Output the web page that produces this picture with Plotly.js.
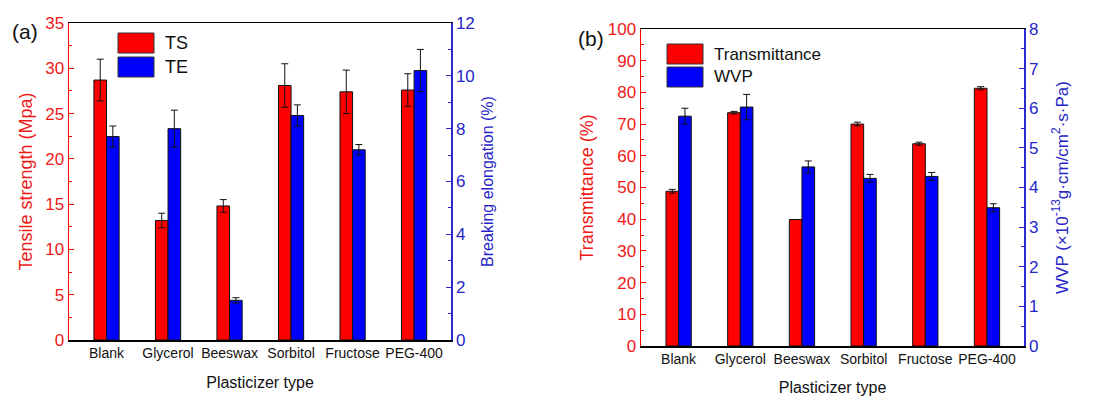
<!DOCTYPE html>
<html>
<head>
<meta charset="utf-8">
<script src="https://cdn.plot.ly/plotly-3.0.1.min.js"></script>
<style>html,body{margin:0;padding:0;background:#fff;}#chart{width:1094px;height:397px;}</style>
</head>
<body>
<div id="chart"></div>
<script>
const categories = ['Blank', 'Glycerol', 'Beeswax', 'Sorbitol', 'Fructose', 'PEG-400'];
const tsValues = [28.7, 13.2, 14.8, 28.1, 27.4, 27.6];
const tsErr = [2.3, 0.8, 0.7, 2.4, 2.4, 1.8];
const teValues = [7.7, 8.0, 1.5, 8.5, 7.2, 10.2];
const teErr = [0.4, 0.7, 0.1, 0.4, 0.2, 0.8];
const transValues = [48.8, 73.6, 39.9, 70.0, 63.8, 81.3];
const transErr = [0.6, 0.4, 0, 0.6, 0.5, 0.5];
const wvpValues = [5.8, 6.03, 4.52, 4.23, 4.28, 3.49];
const wvpErr = [0.2, 0.32, 0.15, 0.1, 0.1, 0.1];

const W = 1094, H = 397;
const RED = '#ff0000', BLUE = '#0000ff';
const RED_T = '#f01818', BLUE_T = '#2626c8';
const FONT = 'Liberation Sans, Arial, sans-serif';
const px = x => x / W;
const py = y => 1 - y / H;
const BW = 0.205;

function bar(x, y, err, color, name, xa, ya, offset) {
  return {
    type: 'bar', x: x, y: y, name: name, xaxis: xa, yaxis: ya,
    width: BW, offset: offset,
    marker: {color: color, line: {color: '#111', width: 1}},
    error_y: {type: 'data', array: err, visible: true, color: '#111', thickness: 1, width: 3.5},
    showlegend: false
  };
}

const data = [
  bar(categories, tsValues, tsErr, RED, 'TS', 'x', 'y', -BW),
  bar(categories, teValues, teErr, BLUE, 'TE', 'x', 'y2', 0),
  bar(categories, transValues, transErr, RED, 'Transmittance', 'x2', 'y3', -BW),
  bar(categories, wvpValues, wvpErr, BLUE, 'WVP', 'x2', 'y4', 0)
];

function xax(domain, anchor, standoff) {
  return {
    domain: domain, anchor: anchor, type: 'category', range: [-0.61, 5.6],
    showline: true, linecolor: '#000', linewidth: 1.5, mirror: true,
    ticks: '', showgrid: false, zeroline: false,
    tickfont: {family: FONT, size: 14, color: '#111'},
    title: {text: 'Plasticizer type', font: {family: FONT, size: 16, color: '#111'}, standoff: standoff}
  };
}
function yax(domain, anchor, range, dtick, minor, color, tcolor, title, tsize, standoff, side, overlay) {
  const a = {
    domain: domain, anchor: anchor, range: range, dtick: dtick, tick0: 0,
    showline: true, linecolor: color, linewidth: 1.5,
    ticks: 'inside', ticklen: 5, tickcolor: color, tickwidth: 1,
    minor: {dtick: minor, ticks: 'inside', ticklen: 3, tickcolor: color},
    showgrid: false, zeroline: false,
    tickfont: {family: FONT, size: 17, color: tcolor},
    title: {text: title, font: {family: FONT, size: tsize, color: tcolor}, standoff: standoff}
  };
  if (side) a.side = side;
  if (overlay) a.overlaying = overlay;
  return a;
}

const dA = [px(69), px(451)], dAy = [py(340), py(23)];
const dB = [px(641), px(1024)], dBy = [py(346), py(29)];

const layout = {
  width: W, height: H,
  margin: {l: 0, r: 0, t: 0, b: 0},
  paper_bgcolor: '#fff', plot_bgcolor: 'rgba(0,0,0,0)',
  barmode: 'overlay',
  showlegend: false,
  xaxis: xax(dA, 'y', 16),
  xaxis2: xax(dB, 'y3', 15),
  yaxis: yax(dAy, 'x', [0, 35], 5, 2.5, RED, RED_T, 'Tensile strength (Mpa)', 18, 8),
  yaxis2: yax(dAy, 'x', [0, 12], 2, 1, '#2a2ad0', BLUE_T, 'Breaking elongation (%)', 16, 8, 'right', 'y'),
  yaxis3: yax(dBy, 'x2', [0, 100], 10, 5, RED, RED_T, 'Transmittance (%)', 18, 9, null, null),
  yaxis4: yax(dBy, 'x2', [0, 8], 1, 0.5, '#2a2ad0', BLUE_T, 'WVP (×10<sup>-13</sup>g·cm/cm<sup>2</sup>·s·Pa)', 17, 18, 'right', 'y3'),
  shapes: [
    {type: 'rect', xref: 'paper', yref: 'paper', x0: px(118), x1: px(154), y0: py(53), y1: py(33), fillcolor: RED, line: {color: '#333', width: 1}},
    {type: 'rect', xref: 'paper', yref: 'paper', x0: px(118), x1: px(154), y0: py(77), y1: py(57), fillcolor: BLUE, line: {color: '#333', width: 1}},
    {type: 'rect', xref: 'paper', yref: 'paper', x0: px(667), x1: px(703), y0: py(64), y1: py(44), fillcolor: RED, line: {color: '#333', width: 1}},
    {type: 'rect', xref: 'paper', yref: 'paper', x0: px(667), x1: px(703), y0: py(87), y1: py(67), fillcolor: BLUE, line: {color: '#333', width: 1}}
  ],
  annotations: [
    {xref: 'paper', yref: 'paper', x: px(163), y: py(43), xanchor: 'left', yanchor: 'middle', text: 'TS', showarrow: false, font: {family: FONT, size: 18, color: '#111'}},
    {xref: 'paper', yref: 'paper', x: px(163), y: py(67), xanchor: 'left', yanchor: 'middle', text: 'TE', showarrow: false, font: {family: FONT, size: 18, color: '#111'}},
    {xref: 'paper', yref: 'paper', x: px(712), y: py(54), xanchor: 'left', yanchor: 'middle', text: 'Transmittance', showarrow: false, font: {family: FONT, size: 17, color: '#111'}},
    {xref: 'paper', yref: 'paper', x: px(712), y: py(77), xanchor: 'left', yanchor: 'middle', text: 'WVP', showarrow: false, font: {family: FONT, size: 17, color: '#111'}},
    {xref: 'paper', yref: 'paper', x: px(10), y: py(32), xanchor: 'left', yanchor: 'middle', text: '(a)', showarrow: false, font: {family: FONT, size: 21, color: '#111'}},
    {xref: 'paper', yref: 'paper', x: px(576), y: py(38), xanchor: 'left', yanchor: 'middle', text: '(b)', showarrow: false, font: {family: FONT, size: 21, color: '#111'}}
  ]
};

Plotly.newPlot('chart', data, layout, {staticPlot: true, displayModeBar: false});
</script>
</body>
</html>
